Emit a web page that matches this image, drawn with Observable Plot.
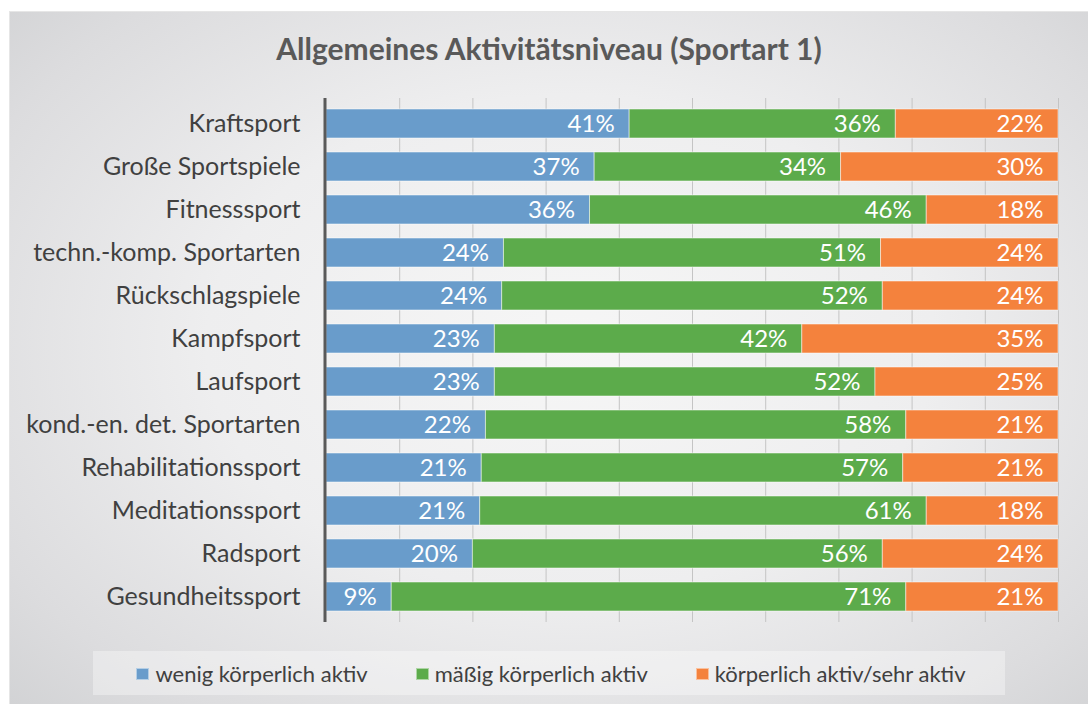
<!DOCTYPE html>
<html>
<head>
<meta charset="utf-8">
<script src="https://cdn.jsdelivr.net/npm/d3@7"></script>
<script src="https://cdn.jsdelivr.net/npm/@observablehq/plot@0.6"></script>
<style>
  html, body { margin: 0; padding: 0; background: #ffffff; }
  #wrap { position: relative; width: 1088px; height: 704px; overflow: hidden; background: #ffffff; font-family: Lato, "Open Sans", sans-serif; }
  #panel { position: absolute; left: 9px; top: 11px; right: 0; bottom: 0;
    background: radial-gradient(ellipse 75% 80% at 52% 48%, #f6f6f6 0%, #eeeeef 45%, #dcdcde 80%, #cfd0d2 100%);
    border-top: 1px solid #e6e6e6; border-left: 1px solid #e6e6e6; }
  #title { position: absolute; left: 0; width: 1098px; top: 30px; line-height: 36px; text-align: center; font-weight: bold; font-size: 30px; color: #595959; }
  #chart { position: absolute; left: 0; top: 0; }
  #legend { position: absolute; left: 93px; top: 651px; width: 912px; height: 44px; background: rgba(255,255,255,0.35);
    display: flex; align-items: center; justify-content: center; gap: 44px; }
  .item { display: flex; align-items: center; font-size: 22px; color: #404040; padding-left: 4px; }
  .sw { width: 13px; height: 12px; margin-right: 6px; margin-top: 2px; box-sizing: border-box; border: 1px solid rgba(255,255,255,0.5); }
</style>
</head>
<body>
<div id="wrap">
  <div id="panel"></div>
  <div id="title"></div>
  <div id="chart"></div>
  <div id="legend"></div>
</div>
<script>
const title = "Allgemeines Aktivitätsniveau (Sportart 1)";
const sports = [
  "Kraftsport",
  "Große Sportspiele",
  "Fitnesssport",
  "techn.-komp. Sportarten",
  "Rückschlagspiele",
  "Kampfsport",
  "Laufsport",
  "kond.-en. det. Sportarten",
  "Rehabilitationssport",
  "Meditationssport",
  "Radsport",
  "Gesundheitssport"
];
const series = ["wenig körperlich aktiv", "mäßig körperlich aktiv", "körperlich aktiv/sehr aktiv"];
const wenig   = [41, 37, 36, 24, 24, 23, 23, 22, 21, 21, 20, 9];
const maessig = [36, 34, 46, 51, 52, 42, 52, 58, 57, 61, 56, 71];
const aktiv   = [22, 30, 18, 24, 24, 35, 25, 21, 21, 18, 24, 21];
const colors = ["#699ccb", "#5cab4b", "#f4823d"];
const gridTicks = [0.1, 0.2, 0.3, 0.4, 0.5, 0.6, 0.7, 0.8, 0.9, 1.0];

const seriesValues = [wenig, maessig, aktiv];
const rows = sports.flatMap((s, i) => seriesValues.map((arr, k) => ({sport: s, cat: series[k], value: arr[i]})));

document.getElementById("title").textContent = title;

const chart = Plot.plot({
  width: 1088,
  height: 704,
  marginLeft: 326,
  marginRight: 30,
  marginTop: 98,
  marginBottom: 82,
  x: {domain: [0, 1], axis: null},
  y: {domain: sports, paddingInner: 0.335, paddingOuter: 0.167, label: null, axis: null},
  color: {domain: series, range: colors},
  style: {background: "transparent", fontFamily: "Lato, 'Open Sans', sans-serif"},
  marks: [
    Plot.gridX(gridTicks, {stroke: "#c4c4c4", strokeOpacity: 1}),
    Plot.barX(rows, Plot.stackX({x: "value", y: "sport", fill: "cat", offset: "normalize",
      stroke: "#ffffff", strokeOpacity: 0.5, strokeWidth: 1})),
    Plot.text(rows, Plot.stackX2({x: "value", y: "sport", z: "cat", offset: "normalize",
      text: d => d.value + "%", textAnchor: "end", dx: -15, fill: "white", fontSize: 24})),
    Plot.ruleX([0], {stroke: "#595959", strokeWidth: 3, dx: -1.5}),
    Plot.axisY({tickSize: 0, tickPadding: 26, fontSize: 25, fill: "#404040", label: null})
  ]
});
document.getElementById("chart").appendChild(chart);

const legend = document.getElementById("legend");
series.forEach((s, k) => {
  const item = document.createElement("div");
  item.className = "item";
  const sw = document.createElement("span");
  sw.className = "sw";
  sw.style.background = colors[k];
  const t = document.createElement("span");
  t.textContent = s;
  item.appendChild(sw);
  item.appendChild(t);
  legend.appendChild(item);
});
</script>
</body>
</html>
